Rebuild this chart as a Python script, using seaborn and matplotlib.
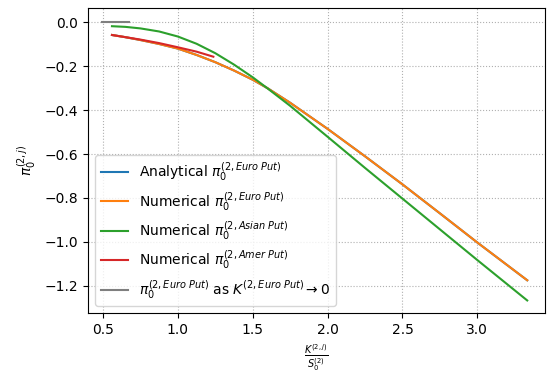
import matplotlib
matplotlib.use("Agg")
import matplotlib.pyplot as plt
import seaborn as sns

# strike / spot ratio grid
k_ratio = [0.56, 0.65, 0.75, 0.875, 1.0, 1.125, 1.25, 1.375, 1.5, 1.6, 1.75,
           2.0, 2.25, 2.5, 2.75, 3.0, 3.333]

euro_analytical = [-0.057, -0.067, -0.080, -0.098, -0.119, -0.148, -0.181, -0.219, -0.261, -0.300,
                   -0.366, -0.485, -0.610, -0.738, -0.870, -1.003, -1.175]
euro_numerical = list(euro_analytical)
asian_numerical = [-0.017, -0.020, -0.027, -0.041, -0.064, -0.097, -0.140, -0.192, -0.250, -0.301,
                   -0.380, -0.521, -0.663, -0.803, -0.943, -1.083, -1.267]

amer_k = [0.56, 0.75, 0.875, 1.0, 1.125, 1.237]
amer_numerical = [-0.057, -0.078, -0.094, -0.113, -0.133, -0.156]

limit_k = [0.495, 0.672]
limit_val = [0.0, 0.0]

labels = [
    r'Analytical $\pi_0^{(2,Euro\ Put)}$',
    r'Numerical $\pi_0^{(2,Euro\ Put)}$',
    r'Numerical $\pi_0^{(2,Asian\ Put)}$',
    r'Numerical $\pi_0^{(2,Amer\ Put)}$',
    r'$\pi_0^{(2,Euro\ Put)}$ as $K^{(2,Euro\ Put)} \to 0$',
]

fig, ax = plt.subplots(figsize=(5.57, 3.81), dpi=100)
fig.subplots_adjust(left=0.158, right=0.978, top=0.979, bottom=0.178)

sns.lineplot(x=k_ratio, y=euro_analytical, color='tab:blue', label=labels[0], ax=ax)
sns.lineplot(x=k_ratio, y=euro_numerical, color='tab:orange', label=labels[1], ax=ax)
sns.lineplot(x=k_ratio, y=asian_numerical, color='tab:green', label=labels[2], ax=ax)
sns.lineplot(x=amer_k, y=amer_numerical, color='tab:red', label=labels[3], ax=ax)
sns.lineplot(x=limit_k, y=limit_val, color='tab:gray', label=labels[4], ax=ax)

ax.set_xlim(0.40, 3.45)
ax.set_ylim(-1.325, 0.066)
ax.grid(True, linestyle=':')
ax.set_xlabel(r'$\frac{K^{(2,j)}}{S_0^{(2)}}$')
ax.set_ylabel(r'$\pi_0^{(2,j)}$')
ax.legend(loc='lower left')

fig.savefig('out.png', dpi=100)
